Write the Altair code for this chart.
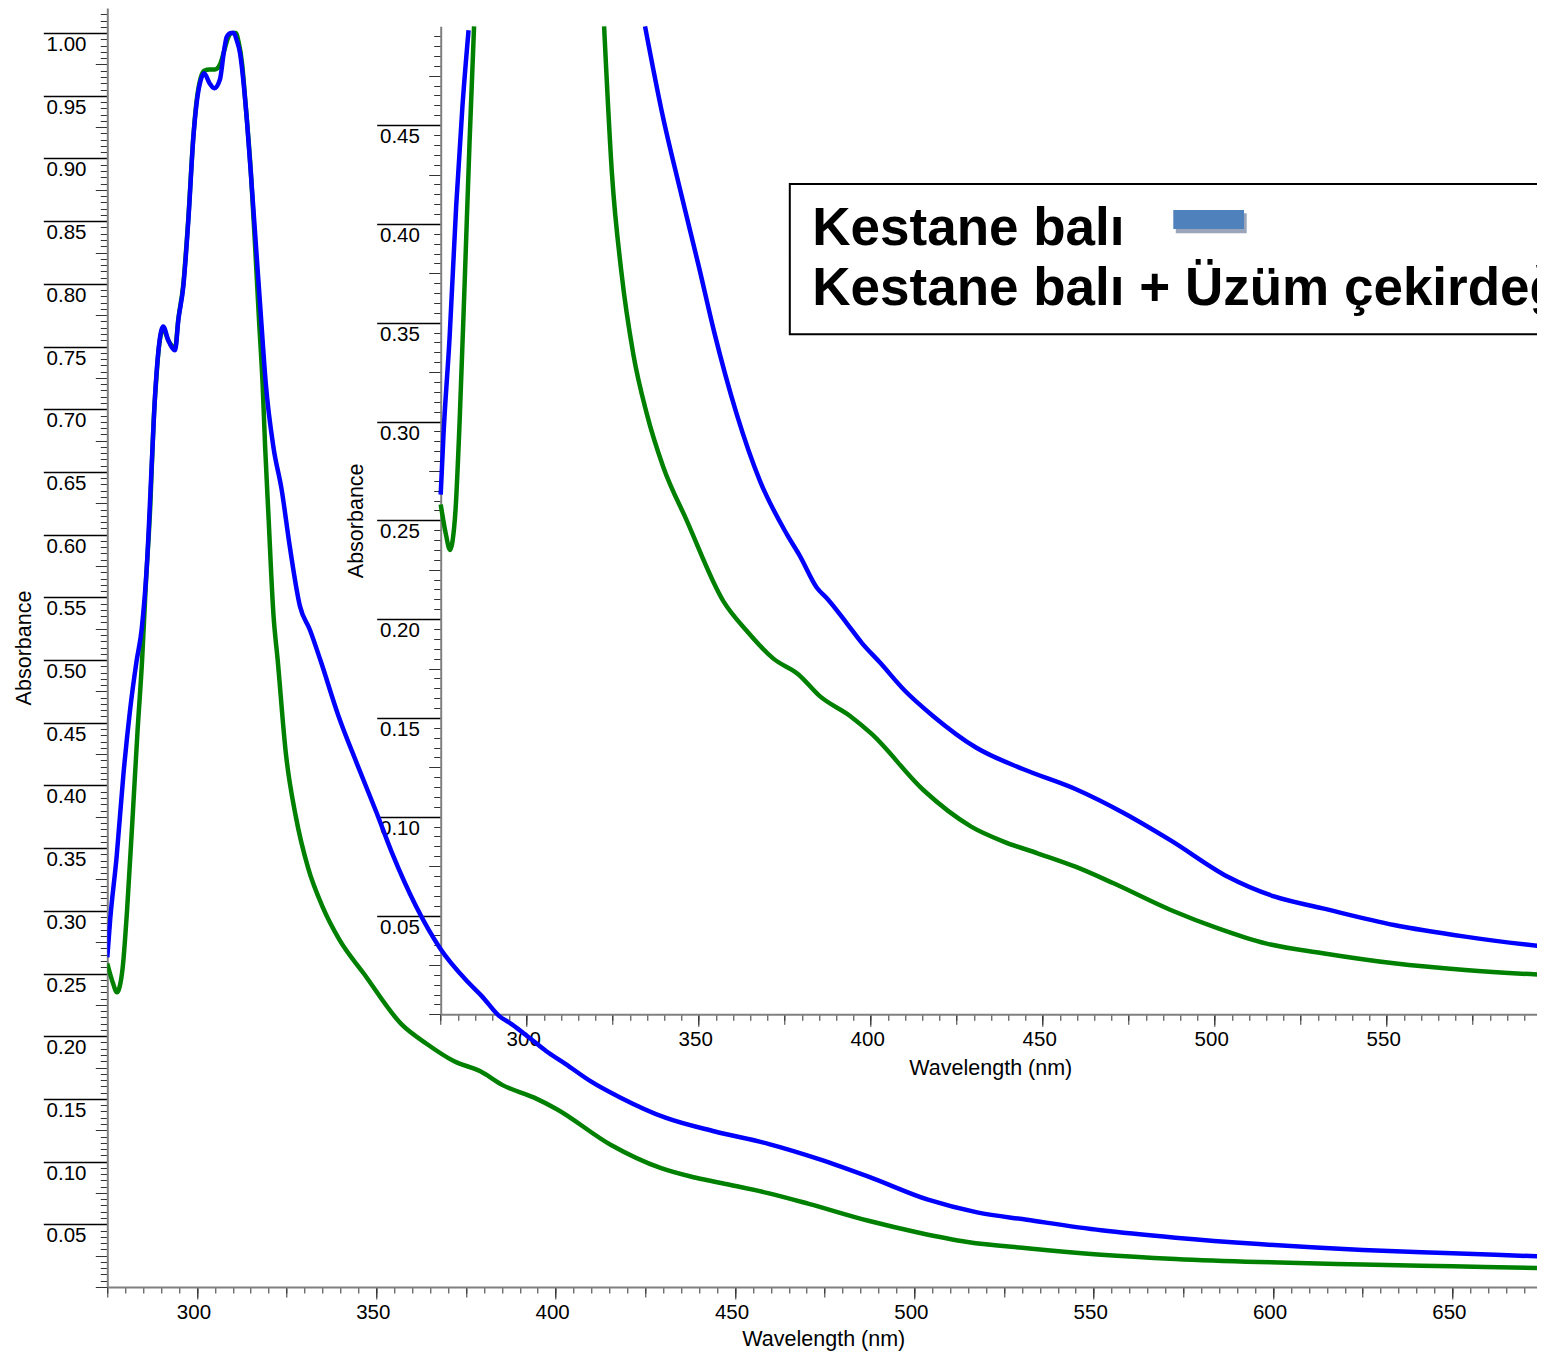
import altair as alt
import pandas as pd

# ---------------- data ----------------
SERIES_BLUE = "Kestane balı"
SERIES_GREEN = "Kestane balı + Üzüm çekirdeği"

blue_wl = [275.0, 275.8, 277.6, 279.5, 281.3, 283.1, 284.6, 286.0, 287.4, 288.2,
           289.5, 290.6, 292.0, 293.9, 294.8, 296.2, 297.6, 299.0, 299.9, 301.0,
           302.0, 303.5, 304.8, 306.4, 307.5, 308.3, 309.5, 310.3, 311.0, 312.0,
           313.0, 313.9, 315.3, 316.6, 317.9, 319.2, 321.3, 323.6, 325.9, 328.7,
           331.5, 334.4, 339.5, 344.5, 350.1, 354.4, 361.0, 367.8, 375.6, 379.4,
           384.3, 387.7, 393.0, 397.4, 402.7, 409.8, 418.1, 430.6, 444.4, 459.5,
           473.4, 487.2, 503.8, 517.5, 531.4, 552.1, 572.8, 596.0, 625.0, 650.0,
           676.0]
blue_abs = [0.263, 0.293, 0.343, 0.409, 0.459, 0.498, 0.525, 0.574, 0.657, 0.705,
            0.753, 0.766, 0.755, 0.747, 0.771, 0.798, 0.851, 0.917, 0.944, 0.962,
            0.968, 0.960, 0.956, 0.963, 0.985, 0.997, 1.000, 1.000, 0.995, 0.984,
            0.960, 0.931, 0.877, 0.824, 0.771, 0.720, 0.670, 0.636, 0.590, 0.543,
            0.524, 0.500, 0.455, 0.418, 0.378, 0.346, 0.304, 0.270, 0.243, 0.232,
            0.216, 0.2097, 0.198, 0.188, 0.178, 0.164, 0.151, 0.135, 0.124, 0.114,
            0.102, 0.088, 0.0696, 0.0595, 0.0536, 0.0452, 0.0393, 0.0342, 0.0295, 0.0269,
            0.0242]

green_wl = [275.0, 276.5, 277.7, 278.4, 279.3, 280.5, 282.0, 283.4, 284.7, 285.7,
            287.0, 287.9, 288.6, 289.5, 290.6, 292.0, 293.9, 294.8, 296.2, 297.6,
            299.0, 299.9, 301.0, 302.0, 303.5, 305.0, 306.4, 307.5, 308.5, 309.8,
            310.8, 311.6, 312.6, 313.5, 315.0, 316.2, 317.3, 318.3, 319.0, 319.9,
            321.3, 322.5, 324.8, 327.5, 331.0, 334.9, 339.7, 346.5, 357.2, 364.0,
            371.7, 379.0, 385.2, 394.0, 400.2, 415.3, 429.2, 438.8, 448.5, 459.5,
            470.6, 487.2, 501.0, 514.8, 531.4, 552.1, 572.8, 596.0, 625.0, 650.0,
            676.0]
green_abs = [0.258, 0.243, 0.235, 0.239, 0.255, 0.300, 0.372, 0.442, 0.500, 0.558,
             0.624, 0.690, 0.722, 0.752, 0.764, 0.755, 0.749, 0.772, 0.800, 0.853,
             0.918, 0.946, 0.964, 0.970, 0.971, 0.971, 0.975, 0.985, 0.995, 1.000,
             1.000, 0.993, 0.975, 0.945, 0.890, 0.830, 0.771, 0.720, 0.670, 0.617,
             0.537, 0.500, 0.425, 0.376, 0.334, 0.304, 0.277, 0.250, 0.209, 0.194,
             0.180, 0.172, 0.161, 0.151, 0.142, 0.1135, 0.095, 0.0873, 0.0815, 0.0747,
             0.0663, 0.0528, 0.0435, 0.0359, 0.0309, 0.0258, 0.0224, 0.0199, 0.0180, 0.0165,
             0.0150]

# tick values
main_x_minor = list(range(275, 674, 5))
main_x_mid = list(range(275, 674, 25))
main_x_major = list(range(300, 651, 50))
main_y_minor = [round(i * 0.005, 3) for i in range(0, 204)]
main_y_mid = [round(i * 0.025, 3) for i in range(0, 41)]
main_y_major = [round(i * 0.05, 2) for i in range(1, 21)]

inset_x_minor = list(range(275, 594, 5))
inset_x_mid = list(range(275, 594, 25))
inset_x_major = list(range(300, 551, 50))
inset_y_minor = [round(i * 0.005, 3) for i in range(0, 100)]
inset_y_mid = [round(i * 0.025, 3) for i in range(0, 20)]
inset_y_major = [round(i * 0.05, 2) for i in range(1, 10)]

legend_labels = [SERIES_BLUE, SERIES_GREEN]

# ---------------- layout ----------------
W = 1429.7          # keeps the whole svg inside the 1529 px wide page body
H = 1279.0
FONT = "Liberation Sans"
INSET_LEFT = 333.4
INSET_BOTTOM = 1006.3
INSET_TOP = 18.3
MAIN_PX_PER_NM = 3.587
INSET_PX_PER_NM = 3.44

blue_df = pd.DataFrame({"wl": blue_wl, "A": blue_abs})
green_df = pd.DataFrame({"wl": green_wl, "A": green_abs})
anchor = pd.DataFrame({"wl": [275.0], "A": [0.0]})

main_x = alt.Scale(domain=[275, 275 + W / MAIN_PX_PER_NM], range=[0, W], nice=False, zero=False)
main_y = alt.Scale(domain=[0, 1.02], range=[H, 0], nice=False, zero=False)
inset_x = alt.Scale(domain=[275, 275 + (W - INSET_LEFT) / INSET_PX_PER_NM],
                    range=[INSET_LEFT, W], nice=False, zero=False)
inset_y = alt.Scale(domain=[0, 0.5], range=[INSET_BOTTOM, INSET_TOP], nice=False, zero=False)

BASE = dict(grid=False, domain=False, labels=False, title=None,
            tickColor="#333333", tickWidth=1,
            labelFont=FONT, labelFontSize=20.5, labelColor="black",
            labelOverlap=False, labelFlush=False, labelBound=False,
            titleFont=FONT, titleFontSize=21.5, titleFontWeight="normal", titleColor="black")


def ax(**kw):
    d = dict(BASE)
    d.update(kw)
    return alt.Axis(**d)


def axis_layer(xs, ys, xaxis, yaxis):
    return alt.Chart(anchor).mark_point(opacity=0).encode(
        x=alt.X("wl:Q", scale=xs, axis=xaxis),
        y=alt.Y("A:Q", scale=ys, axis=yaxis),
    )


ylab_expr = ("(abs(datum.value*20 - round(datum.value*20)) < 0.001 && datum.value > 0.001 "
             "&& datum.value < 1.001) ? format(datum.value, '.2f') : ''")

layers = []
for xs, ys, xoff, yoff, xv, yv, tpos in [
    (main_x, main_y, 0, 0, (main_x_minor, main_x_mid, main_x_major),
     (main_y_minor, main_y_mid, main_y_major), (716, 58, -77, H / 2)),
    (inset_x, inset_y, -(H - INSET_BOTTOM), -INSET_LEFT,
     (inset_x_minor, inset_x_mid, inset_x_major),
     (inset_y_minor, inset_y_mid, inset_y_major),
     (883, 60, -78.5, (INSET_TOP + INSET_BOTTOM) / 2)),
]:
    # minor ticks + y labels + y title
    layers.append(axis_layer(
        xs, ys,
        ax(orient="bottom", values=xv[0], tickSize=6, offset=xoff),
        ax(orient="left", values=yv[0], tickSize=7, labels=True, labelExpr=ylab_expr,
           labelPadding=14.3, labelBaseline="top", labelOffset=1.5, labelAlign="right",
           title="Absorbance", titleAngle=270, titleX=tpos[2], titleY=tpos[3],
           titleBaseline="alphabetic", titleAlign="center", offset=yoff),
    ))
    # medium ticks
    layers.append(axis_layer(
        xs, ys,
        ax(orient="bottom", values=xv[1], tickSize=10, offset=xoff),
        ax(orient="left", values=yv[1], tickSize=12, offset=yoff),
    ))
    # major ticks + x labels + axis lines
    layers.append(axis_layer(
        xs, ys,
        ax(orient="bottom", values=xv[2], tickSize=12, labels=True, format="d",
           labelPadding=3.3, labelOffset=-3.5, labelBaseline="top",
           domain=True, domainColor="#808080", domainWidth=2,
           title="Wavelength (nm)", titleX=tpos[0], titleY=tpos[1],
           titleBaseline="alphabetic", titleAlign="center", offset=xoff),
        ax(orient="left", values=yv[2], tickSize=64, tickColor="black", tickWidth=1.3,
           domain=True, domainColor="#808080", domainWidth=2, offset=yoff),
    ))


def line_layer(df, color, xs, ys, inset=False):
    base = alt.Chart(df)
    enc = dict(x=alt.X("wl:Q", scale=xs, axis=None),
               y=alt.Y("A:Q", scale=ys, axis=None),
               order=alt.Order("wl:Q"))
    if inset:
        base = base.transform_filter("datum.A <= 0.5001").transform_calculate(
            seg="datum.wl < 300 ? 'rise' : 'fall'")
        enc["detail"] = alt.Detail("seg:N")
    return base.mark_line(color=color, strokeWidth=4.5, clip=True,
                          interpolate="monotone").encode(**enc)


layers += [
    line_layer(green_df, "#008000", main_x, main_y),
    line_layer(blue_df, "#0000FF", main_x, main_y),
    line_layer(green_df, "#008000", inset_x, inset_y, inset=True),
    line_layer(blue_df, "#0000FF", inset_x, inset_y, inset=True),
]

leg_df = pd.DataFrame({"label": legend_labels})
one = pd.DataFrame({"k": [0]})

legend_box = alt.Chart(one).mark_rect(fill="white", stroke="black", strokeWidth=2, clip=True).encode(
    x=alt.value(682.5), x2=alt.value(W + 30), y=alt.value(176), y2=alt.value(326.3))
swatch_shadow = alt.Chart(one).mark_rect(fill="#9AA5BA", clip=True).encode(
    x=alt.value(1068.5), x2=alt.value(1139.4), y=alt.value(205.3), y2=alt.value(225.3))
swatch = alt.Chart(one).mark_rect(fill="#4F81BD", clip=True).encode(
    x=alt.value(1066), x2=alt.value(1136.7), y=alt.value(202), y2=alt.value(221))
text1 = alt.Chart(leg_df).transform_filter(alt.datum.label == legend_labels[0]).mark_text(
    align="left", baseline="alphabetic", font=FONT, fontSize=53, fontWeight="bold",
    color="black", clip=True).encode(x=alt.value(705), y=alt.value(237), text="label:N")
text2 = alt.Chart(leg_df).transform_filter(alt.datum.label == legend_labels[1]).mark_text(
    align="left", baseline="alphabetic", font=FONT, fontSize=53, fontWeight="bold",
    color="black", clip=True).encode(x=alt.value(705), y=alt.value(297), text="label:N")

layers += [legend_box, swatch_shadow, swatch, text1, text2]

chart = alt.layer(*layers).resolve_scale(
    x="independent", y="independent"
).resolve_axis(
    x="independent", y="independent"
).properties(
    width=W, height=H,
    padding={"left": 99.3, "top": 0, "right": 0, "bottom": 66},
    autosize=alt.AutoSizeParams(type="none"),
).configure_view(stroke=None)

chart.save("out.html", embed_options={"renderer": "svg", "actions": False})
